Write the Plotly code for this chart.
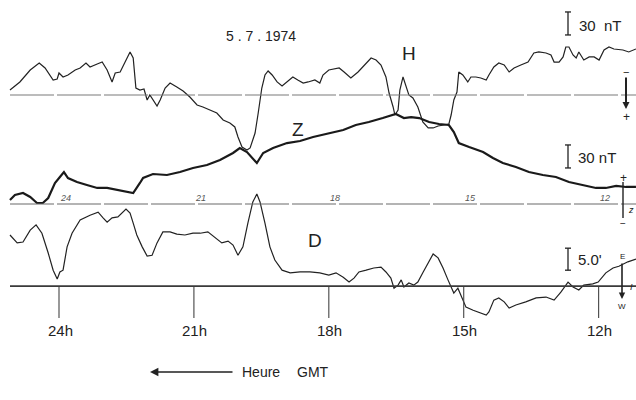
import plotly.graph_objects as go

# ---------------- data (5.7.1974) ----------------
# time in hours GMT (axis runs right -> left), H and Z in nT from baseline, D in arc-minutes
H_time = [25.09, 24.87, 24.64, 24.44, 24.31, 24.13, 24.04, 24.00, 23.91, 23.80, 23.64, 23.53, 23.40, 23.31,
          23.15, 23.04, 22.93, 22.82, 22.75, 22.64, 22.53, 22.42, 22.35, 22.29, 22.20, 22.11, 22.04, 21.98,
          21.82, 21.75, 21.64, 21.53, 21.38, 21.24, 21.09, 20.93, 20.80, 20.64, 20.49, 20.35, 20.20, 20.09,
          20.02, 19.93, 19.82, 19.75, 19.64, 19.57, 19.49, 19.42, 19.35, 19.26, 19.15, 19.04, 18.93, 18.80,
          18.69, 18.57, 18.46, 18.31, 18.20, 18.13, 18.00, 17.77, 17.66, 17.51, 17.35, 17.17, 17.06, 16.95,
          16.84, 16.73, 16.66, 16.57, 16.53, 16.46, 16.42, 16.35, 16.31, 16.22, 16.13, 16.02, 15.91, 15.79,
          15.68, 15.57, 15.44, 15.33, 15.28, 15.22, 15.15, 15.11, 15.02, 14.91, 14.84, 14.73, 14.62, 14.50,
          14.44, 14.33, 14.22, 14.10, 13.99, 13.88, 13.73, 13.57, 13.44, 13.33, 13.17, 13.06, 12.99, 12.88,
          12.79, 12.73, 12.66, 12.57, 12.50, 12.44, 12.33, 12.21, 12.10, 11.99, 11.88, 11.77, 11.66, 11.46,
          11.33, 11.17]
H_nT = [6.5, 17.0, 32.6, 41.7, 35.2, 19.6, 20.9, 28.7, 23.5, 26.1, 32.6, 35.2, 41.7, 36.5,
        40.4, 43.0, 32.6, 17.0, 28.7, 30.0, 43.0, 56.1, 48.2, 9.1, 6.5, 7.8, -6.5, 0.0,
        -14.3, -6.5, 9.1, 15.6, 10.4, 5.2, -2.6, -13.0, -15.6, -19.6, -23.5, -32.6, -36.5, -41.7,
        -54.8, -67.8, -71.7, -69.1, -49.6, -23.5, 9.1, 26.1, 31.3, 26.1, 17.0, 11.7, 17.0, 23.5,
        19.6, 15.6, 17.0, 19.6, 15.6, 26.1, 32.6, 35.2, 30.0, 22.2, 30.0, 41.7, 48.2, 45.6,
        39.1, 23.5, 2.6, -15.6, -26.1, -19.6, 6.5, 23.5, 15.6, 0.0, -3.9, -15.6, -35.2, -43.0,
        -43.0, -40.4, -39.1, -37.8, -26.1, -6.5, 3.9, 30.0, 26.1, 17.0, 23.5, 23.5, 22.2, 19.6,
        26.1, 36.5, 41.7, 39.1, 30.0, 35.2, 39.1, 43.0, 54.8, 56.1, 54.8, 52.2, 43.0, 43.0,
        49.6, 62.6, 62.6, 52.2, 48.2, 56.1, 45.6, 49.6, 49.6, 45.6, 58.7, 62.6, 60.0, 58.7,
        56.1, 60.0]

Z_time = [25.09, 24.98, 24.80, 24.64, 24.49, 24.36, 24.24, 24.09, 23.98, 23.89, 23.80, 23.60, 23.38, 23.15,
          22.93, 22.71, 22.49, 22.35, 22.20, 22.13, 21.91, 21.60, 21.31, 21.02, 20.71, 20.42, 20.13, 19.98,
          19.82, 19.60, 19.46, 19.24, 18.93, 18.64, 18.35, 18.00, 17.68, 17.40, 17.11, 16.80, 16.51, 16.33,
          16.17, 15.99, 15.77, 15.55, 15.33, 15.22, 15.11, 14.88, 14.57, 14.35, 14.13, 13.84, 13.55, 13.24,
          12.95, 12.66, 12.35, 12.06, 11.84, 11.61, 11.39, 11.17]
Z_nT = [5.2, 11.7, 14.3, 9.1, 1.3, 1.3, 7.8, 27.4, 35.2, 41.7, 33.9, 28.7, 24.8, 20.9,
        20.9, 18.3, 15.6, 14.3, 27.4, 33.9, 39.1, 37.8, 41.7, 46.9, 50.9, 57.4, 66.5, 73.0,
        67.8, 53.5, 66.5, 73.0, 79.5, 82.2, 87.4, 92.6, 96.5, 103.0, 106.9, 112.1, 117.4, 112.1,
        113.4, 112.1, 106.9, 104.3, 103.0, 93.9, 79.5, 74.3, 67.8, 60.0, 53.5, 48.2, 41.7, 37.8,
        35.2, 28.7, 24.8, 20.9, 20.9, 23.5, 22.2, 22.2]

D_time = [25.09, 24.93, 24.80, 24.64, 24.51, 24.38, 24.24, 24.13, 24.04, 23.98, 23.91, 23.82, 23.71, 23.53,
          23.31, 23.13, 23.02, 22.93, 22.82, 22.69, 22.51, 22.42, 22.35, 22.27, 22.15, 22.04, 21.93, 21.82,
          21.69, 21.53, 21.38, 21.20, 21.02, 20.86, 20.69, 20.53, 20.38, 20.24, 20.13, 20.02, 19.91, 19.80,
          19.69, 19.60, 19.53, 19.42, 19.31, 19.20, 19.04, 18.86, 18.64, 18.42, 18.20, 18.00, 17.84, 17.68,
          17.55, 17.44, 17.33, 17.17, 17.00, 16.84, 16.73, 16.62, 16.55, 16.46, 16.39, 16.33, 16.22, 16.11,
          16.02, 15.91, 15.79, 15.68, 15.57, 15.46, 15.35, 15.28, 15.22, 15.13, 15.02, 14.95, 14.79, 14.62,
          14.50, 14.44, 14.33, 14.22, 14.10, 13.99, 13.84, 13.62, 13.39, 13.17, 12.99, 12.84, 12.68, 12.57,
          12.44, 12.33, 12.13, 12.01, 11.84, 11.68, 11.55, 11.35, 11.17]
D_min = [11.6, 9.8, 10.0, 12.7, 13.9, 12.0, 7.5, 3.6, 1.6, 3.2, 3.6, 8.9, 12.0, 15.0,
         16.1, 16.8, 15.5, 14.5, 15.5, 15.7, 17.5, 16.6, 14.3, 11.6, 8.9, 6.8, 7.0, 9.8,
         12.3, 12.3, 11.8, 11.6, 12.0, 12.0, 12.3, 11.1, 9.8, 10.2, 9.3, 7.0, 8.9, 14.3,
         19.1, 20.9, 19.1, 14.3, 8.9, 5.9, 3.6, 3.0, 3.2, 3.2, 3.0, 2.5, 3.0, 2.0,
         0.9, 1.8, 3.2, 3.6, 4.1, 4.3, 3.2, 1.8, -0.5, 0.2, 1.4, -0.2, 0.7, 0.2,
         0.9, 3.0, 5.2, 7.3, 6.4, 4.1, 1.4, -0.2, -1.6, -0.5, -3.2, -4.8, -5.5, -6.1,
         -6.6, -5.9, -3.2, -2.7, -3.6, -5.0, -4.3, -3.6, -2.7, -2.5, -3.2, -1.4, 0.9, -0.2,
         -0.9, 0.2, 0.5, 0.9, 3.0, 4.1, 4.5, 5.5, 6.1]

hour_ticks = [24, 21, 18, 15, 12]
hour_labels = ["24h", "21h", "18h", "15h", "12h"]
chart_hour_marks = ["24", "21", "18", "15", "12"]
scale_H_nT = 30
scale_Z_nT = 30
scale_D_min = 5.0

# ---------------- figure ----------------
W, HGT = 636, 400
FONT = "Liberation Sans, Arial, sans-serif"
INK = "#222222"


def px(x, y):
    return x / W, 1 - y / HGT


fig = go.Figure()
fig.add_trace(go.Scatter(x=H_time, y=H_nT, mode="lines", yaxis="y",
                         line=dict(color=INK, width=1.2), hoverinfo="skip", showlegend=False))
fig.add_trace(go.Scatter(x=Z_time, y=Z_nT, mode="lines", yaxis="y2",
                         line=dict(color="#1a1a1a", width=2.2), hoverinfo="skip", showlegend=False))
fig.add_trace(go.Scatter(x=D_time, y=D_min, mode="lines", yaxis="y3",
                         line=dict(color=INK, width=1.2), hoverinfo="skip", showlegend=False))

shapes = []
ann = []

# baselines
shapes.append(dict(type="line", xref="paper", yref="y", x0=10 / W, x1=1, y0=0, y1=0,
                   line=dict(color="#7a7a7a", width=1.1, dash="44px,3px")))
shapes.append(dict(type="line", xref="paper", yref="y2", x0=10 / W, x1=1, y0=0, y1=0,
                   line=dict(color="#6a6a6a", width=1.2, dash="44px,3px")))
shapes.append(dict(type="line", xref="paper", yref="y3", x0=10 / W, x1=1, y0=0, y1=0,
                   line=dict(color="#3a3a3a", width=1.8)))

# hour ticks and labels
for h, lab, mark in zip(hour_ticks, hour_labels, chart_hour_marks):
    shapes.append(dict(type="line", xref="x", yref="paper", x0=h, x1=h,
                       y0=px(0, 287)[1], y1=px(0, 318)[1], line=dict(color="#444", width=1.1)))
    ann.append(dict(x=h, y=px(0, 330)[1], xref="x", yref="paper", text=lab, showarrow=False,
                    xanchor="center", yanchor="middle", xshift=1,
                    font=dict(family=FONT, size=15, color=INK)))
    ann.append(dict(x=h, y=px(0, 198)[1], xref="x", yref="paper", text="<i>" + mark + "</i>",
                    showarrow=False, xanchor="left", yanchor="middle", xshift=-1,
                    font=dict(family=FONT, size=9, color="#555")))


def scale_bar(yref, y0, length):
    xb = 568 / W
    shapes.append(dict(type="line", xref="paper", yref=yref, x0=xb, x1=xb, y0=y0, y1=y0 + length,
                       line=dict(color=INK, width=1.3)))
    for yy in (y0, y0 + length):
        shapes.append(dict(type="line", xref="paper", yref=yref, x0=565 / W, x1=571 / W, y0=yy, y1=yy,
                           line=dict(color=INK, width=1.3)))


scale_bar("y", 78.3, scale_H_nT)
scale_bar("y2", 47.0, scale_Z_nT)
scale_bar("y3", 3.6, scale_D_min)

for (xx, yy), t in [((577, 25), "30  nT"), ((576, 157), "30 nT"), ((576, 259), "5.0'")]:
    x, y = px(xx, yy)
    ann.append(dict(x=x, y=y, xref="paper", yref="paper", text=t, showarrow=False,
                    xanchor="left", yanchor="middle", font=dict(family=FONT, size=15, color=INK)))

# title and component letters
for (xx, yy), t, s in [((261, 36), "5 . 7 . 1974", 14), ((409, 53), "H", 19),
                       ((298, 129), "Z", 19), ((315, 240), "D", 19)]:
    x, y = px(xx, yy)
    ann.append(dict(x=x, y=y, xref="paper", yref="paper", text=t, showarrow=False,
                    xanchor="center", yanchor="middle", font=dict(family=FONT, size=s, color=INK)))

# orientation markers on the right
x, y = px(626, 109)
ann.append(dict(x=x, y=y, xref="paper", yref="paper", text="", showarrow=True, ax=0, ay=-33,
                arrowhead=2, arrowsize=0.7, arrowwidth=2, arrowcolor=INK, standoff=0))
x, y = px(622, 299)
ann.append(dict(x=x, y=y, xref="paper", yref="paper", text="", showarrow=True, ax=0, ay=-37,
                arrowhead=2, arrowsize=0.8, arrowwidth=1.6, arrowcolor=INK, standoff=0))
shapes.append(dict(type="line", xref="paper", yref="paper", x0=623 / W, x1=623 / W,
                   y0=px(0, 182)[1], y1=px(0, 218)[1], line=dict(color=INK, width=1.4)))
for (xx, yy), t, s in [((626, 72), "−", 11), ((626, 117), "+", 12), ((623, 178), "+", 12),
                       ((623, 223), "−", 10), ((622, 256), "E", 8), ((622, 306), "W", 8),
                       ((631, 210), "<i>z</i>", 9), ((631, 287), "<i>I</i>", 9)]:
    x, y = px(xx, yy)
    ann.append(dict(x=x, y=y, xref="paper", yref="paper", text=t, showarrow=False,
                    xanchor="center", yanchor="middle", font=dict(family=FONT, size=s, color=INK)))

# time-direction arrow
x, y = px(150, 372)
ann.append(dict(x=x, y=y, xref="paper", yref="paper", text="", showarrow=True, ax=84, ay=0,
                arrowhead=2, arrowsize=1.2, arrowwidth=1.4, arrowcolor=INK, standoff=0))
for (xx, yy), t in [((240, 372), "Heure"), ((295, 372), "GMT")]:
    x, y = px(xx, yy)
    ann.append(dict(x=x, y=y, xref="paper", yref="paper", text=t, showarrow=False,
                    xanchor="left", yanchor="middle", font=dict(family=FONT, size=14, color=INK)))

fig.update_layout(
    width=W, height=HGT,
    margin=dict(l=0, r=0, t=0, b=0),
    paper_bgcolor="white", plot_bgcolor="white",
    xaxis=dict(range=[25.312, 11.169], visible=False, fixedrange=True),
    yaxis=dict(range=[-397.8, 123.9], visible=False, fixedrange=True),
    yaxis2=dict(range=[-255.7, 266.1], visible=False, overlaying="y", fixedrange=True),
    yaxis3=dict(range=[-25.9, 65.0], visible=False, overlaying="y", fixedrange=True),
    shapes=shapes, annotations=ann, showlegend=False,
)

fig.write_html("out.html", config={"displayModeBar": False},
               post_script="document.body.style.margin='0';document.body.style.overflow='hidden';")
